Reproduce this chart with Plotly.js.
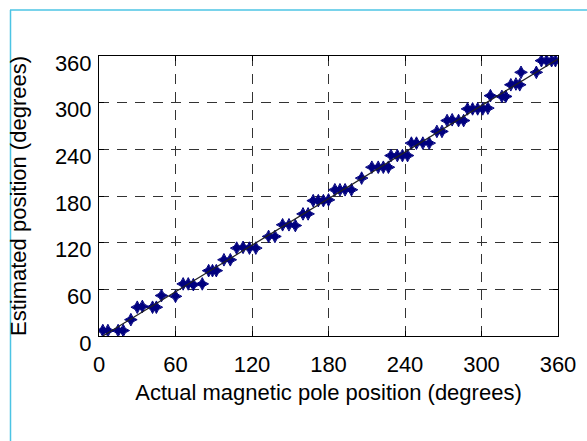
<!DOCTYPE html>
<html>
<head>
<meta charset="utf-8">
<script src="https://cdn.plot.ly/plotly-3.0.1.min.js"></script>
<style>
  html, body { margin: 0; padding: 0; background: #ffffff; }
  #chart { width: 587px; height: 441px; }
</style>
</head>
<body>
<div id="chart"></div>
<script>
// Estimated vs actual magnetic pole position (degrees)
const actualPos = [3, 7, 15, 19, 25, 30, 34, 42, 45, 49, 60, 66, 70, 74, 81, 86, 89, 92,
  98, 103, 108, 113, 118, 123, 133, 138, 144, 149, 154, 160, 164, 168, 172, 176, 180,
  185, 189, 193, 198, 206, 214, 219, 223, 227, 229, 234, 238, 242, 245, 249, 254, 259,
  265, 269, 273, 277, 282, 286, 289, 293, 297, 301, 305, 307, 316, 319, 323, 327, 330,
  331, 343, 347, 351, 355, 358];
const estimatedPos = [7, 7, 7, 7, 21, 37, 38, 37, 37, 52, 51, 67, 67, 66, 67, 84, 84, 84,
  98, 98, 113, 114, 113, 113, 128, 128, 143, 143, 142, 157, 157, 174, 174, 174, 175,
  188, 188, 188, 188, 203, 217, 217, 217, 217, 232, 232, 232, 232, 248, 248, 248, 248,
  263, 263, 277, 278, 277, 277, 292, 292, 292, 292, 293, 309, 308, 308, 323, 324, 323,
  339, 339, 354, 354, 354, 354];
// reference line (ideal tracking)
const refLineX = [3, 360];
const refLineY = [0, 356];
const tickVals = [0, 60, 120, 180, 240, 300, 360];
const tickText = ['0', '60', '120', '180', '240', '300', '360'];

const W = 587, H = 441;
const M = {l: 99, r: 29, t: 56, b: 105};
const pw = W - M.l - M.r, ph = H - M.t - M.b;
const px2x = p => (p - M.l) / pw;
const py2y = p => (H - M.b - p) / ph;

const font = {family: 'Liberation Sans, Arial, Helvetica, sans-serif', size: 22, color: '#000'};

const traces = [
  {
    x: actualPos, y: estimatedPos, type: 'scatter', mode: 'markers',
    marker: {symbol: 'star-diamond', size: 9, color: '#00007f', line: {width: 1, color: '#00007f'}},
    hoverinfo: 'x+y', showlegend: false
  },
  {
    x: refLineX, y: refLineY, type: 'scatter', mode: 'lines',
    line: {color: '#222', width: 1.2}, showlegend: false, hoverinfo: 'skip'
  }
];

const axisCommon = {
  range: [0, 360], tickmode: 'array', tickvals: tickVals, ticktext: tickText,
  showgrid: true, gridcolor: '#333', gridwidth: 1, griddash: '10px,8px',
  zeroline: false, showline: true, linecolor: '#000', linewidth: 1, mirror: 'ticks',
  ticks: 'inside', ticklen: 5, tickcolor: '#000', tickwidth: 1,
  tickfont: font, fixedrange: true
};

const layout = {
  width: W, height: H, margin: M,
  paper_bgcolor: '#fff', plot_bgcolor: '#fff',
  font: font, showlegend: false,
  xaxis: Object.assign({}, axisCommon, {
    ticklabelstandoff: 9,
    title: {text: 'Actual magnetic pole position (degrees)', font: font, standoff: 8}
  }),
  yaxis: Object.assign({}, axisCommon, {
    ticklabelshift: 7, ticklabelstandoff: 2,
    title: {text: 'Estimated position (degrees)', font: font, standoff: 22}
  }),
  shapes: [
    {type: 'line', xref: 'paper', yref: 'paper', x0: px2x(10.5), x1: px2x(10.5), y0: py2y(10), y1: py2y(445),
     line: {color: '#4cc4e4', width: 1.5}},
    {type: 'line', xref: 'paper', yref: 'paper', x0: px2x(10), x1: px2x(592), y0: py2y(10), y1: py2y(10),
     line: {color: '#4cc4e4', width: 1.5}}
  ]
};

Plotly.newPlot('chart', traces, layout, {staticPlot: true, displayModeBar: false});
</script>
</body>
</html>
